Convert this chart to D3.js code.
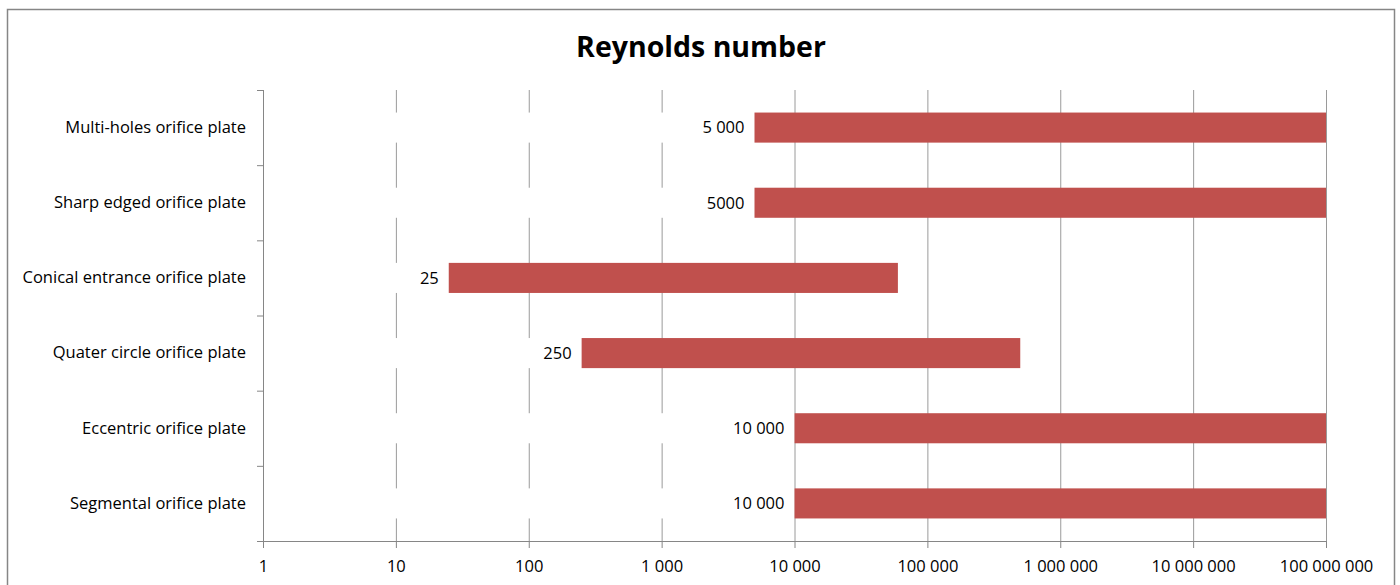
<!DOCTYPE html>
<html>
<head>
<meta charset="utf-8">
<script src="https://cdn.jsdelivr.net/npm/d3@7"></script>
<style>
  body { margin: 0; background: #fff; }
  text { font-family: "Open Sans", "Noto Sans", sans-serif; fill: #000; }
</style>
</head>
<body>
<div id="chart"></div>
<script>
// chart data
const categories = [
  "Multi-holes orifice plate",
  "Sharp edged orifice plate",
  "Conical entrance orifice plate",
  "Quater circle orifice plate",
  "Eccentric orifice plate",
  "Segmental orifice plate"
];
const minValues = [5000, 5000, 25, 250, 10000, 10000];
const maxValues = [100000000, 100000000, 60000, 500000, 100000000, 100000000];
const minLabels = ["5 000", "5000", "25", "250", "10 000", "10 000"];
const tickValues = [1, 10, 100, 1000, 10000, 100000, 1000000, 10000000, 100000000];
const tickLabels = ["1", "10", "100", "1 000", "10 000", "100 000", "1 000 000", "10 000 000", "100 000 000"];

const width = 1400, height = 585;
const margin = { top: 90, right: 74, bottom: 44, left: 263 };
const chartWidth = width - margin.left - margin.right;
const chartHeight = height - margin.top - margin.bottom;

const svg = d3.select("#chart")
  .append("svg")
  .attr("width", width)
  .attr("height", height);

// outer frame
svg.append("rect")
  .attr("x", 7.5).attr("y", 9.5)
  .attr("width", 1387).attr("height", 600)
  .attr("fill", "none")
  .attr("stroke", "#868686")
  .attr("stroke-width", 1.5);

svg.append("text")
  .attr("x", 701)
  .attr("y", 57)
  .attr("text-anchor", "middle")
  .style("font-size", "28.5px")
  .style("font-weight", "bold")
  .text("Reynolds number");

const chart = svg.append("g")
  .attr("transform", `translate(${margin.left}, ${margin.top})`);

// scales
const xScale = d3.scaleLog()
  .domain([1, 100000000])
  .range([0, chartWidth]);

const yScale = d3.scaleBand()
  .domain(categories)
  .range([0, chartHeight])
  .paddingInner(0.6)
  .paddingOuter(0.3);

// vertical gridlines
chart.append("g")
  .selectAll("line")
  .data(tickValues.slice(1))
  .enter()
  .append("line")
  .attr("x1", (d) => xScale(d) + 0.5)
  .attr("x2", (d) => xScale(d) + 0.5)
  .attr("y1", 0)
  .attr("y2", chartHeight)
  .attr("stroke", "#9a9a9a")
  .attr("stroke-width", 1);

// invisible (white) base series hides the gridlines like in the original
const rows = categories.map((c, i) => ({
  name: c, min: minValues[i], max: maxValues[i], label: minLabels[i]
}));

chart.append("g")
  .selectAll("rect")
  .data(rows)
  .enter()
  .append("rect")
  .attr("x", xScale(1) + 1)
  .attr("y", (d) => yScale(d.name))
  .attr("width", (d) => xScale(d.min) - xScale(1) - 1)
  .attr("height", yScale.bandwidth())
  .attr("fill", "#fff");

// range bars
chart.append("g")
  .selectAll("rect")
  .data(rows)
  .enter()
  .append("rect")
  .attr("x", (d) => xScale(d.min))
  .attr("y", (d) => yScale(d.name))
  .attr("width", (d) => xScale(d.max) - xScale(d.min))
  .attr("height", yScale.bandwidth())
  .attr("fill", "#C0504D");

// data labels
chart.append("g")
  .selectAll("text")
  .data(rows)
  .enter()
  .append("text")
  .attr("x", (d) => xScale(d.min) - 10)
  .attr("y", (d) => yScale(d.name) + yScale.bandwidth() / 2)
  .attr("dy", "0.35em")
  .attr("text-anchor", "end")
  .style("font-size", "16.5px")
  .text((d) => d.label);

// x-axis
const xAxis = chart.append("g")
  .attr("transform", `translate(0, ${chartHeight})`)
  .call(d3.axisBottom(xScale)
    .tickValues(tickValues)
    .tickFormat((d, i) => tickLabels[i])
    .tickSize(7)
    .tickSizeOuter(0)
    .tickPadding(12));

xAxis.select(".domain").attr("stroke", "#868686").attr("d", `M-6,0.5H${chartWidth}`);
xAxis.selectAll(".tick line").attr("stroke", "#868686");
xAxis.selectAll(".tick text").style("font-size", "16.5px");

// y-axis
const yAxis = chart.append("g")
  .call(d3.axisLeft(yScale).tickSize(0).tickPadding(17));

yAxis.select(".domain").attr("stroke", "#868686").attr("d", `M0.5,0V${chartHeight}`);
yAxis.selectAll(".tick text").style("font-size", "16.5px");

// category boundary ticks
const boundaries = d3.range(categories.length + 1).map((i) => i * chartHeight / categories.length);
chart.append("g")
  .selectAll("line")
  .data(boundaries)
  .enter()
  .append("line")
  .attr("x1", -6)
  .attr("x2", 0)
  .attr("y1", (d) => d + 0.5)
  .attr("y2", (d) => d + 0.5)
  .attr("stroke", "#868686");
</script>
</body>
</html>
